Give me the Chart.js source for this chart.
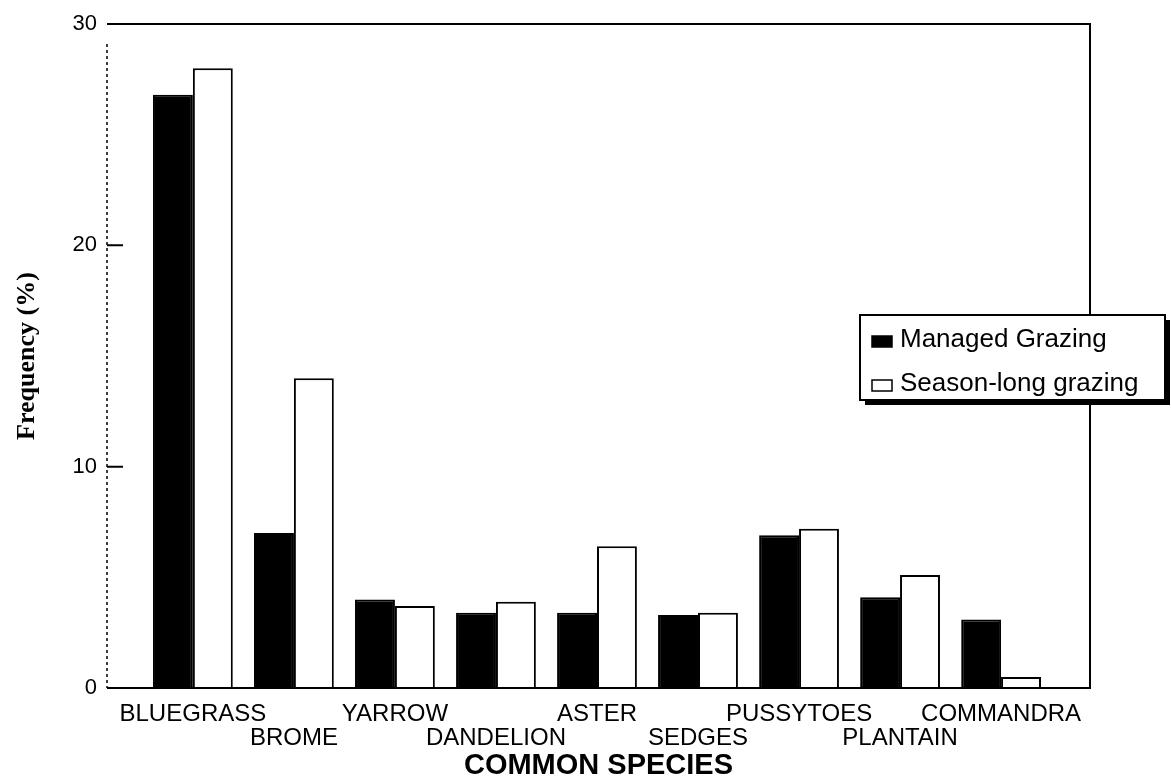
<!DOCTYPE html>
<html>
<head>
<meta charset="utf-8">
<script src="https://cdn.jsdelivr.net/npm/chart.js@4.4.1/dist/chart.umd.min.js"></script>
<style>
  html, body { margin: 0; padding: 0; background: #fff; }
  #wrap { width: 1171px; height: 783px; }
</style>
</head>
<body>
<div id="wrap"><canvas id="barChart"></canvas></div>
<script>
// Data
var species = ['BLUEGRASS', 'BROME', 'YARROW', 'DANDELION', 'ASTER', 'SEDGES', 'PUSSYTOES', 'PLANTAIN', 'COMMANDRA'];
var managedGrazing = [26.8, 7.0, 4.0, 3.4, 3.4, 3.3, 6.9, 4.1, 3.1];
var seasonLongGrazing = [28.0, 14.0, 3.7, 3.9, 6.4, 3.4, 7.2, 5.1, 0.5];
var yTicks = [0, 10, 20, 30];
var seriesNames = ['Managed Grazing', 'Season-long grazing'];

var ctx = document.getElementById('barChart').getContext('2d');

function toPoints(values) {
    return values.map(function (v, i) { return { x: i, y: v }; });
}

// Plot frame: solid top/right/bottom, dotted left axis, inward ticks
var framePlugin = {
    id: 'frame',
    afterDatasetsDraw: function (chart) {
        var a = chart.chartArea, c = chart.ctx, ys = chart.scales.y;
        c.save();
        c.strokeStyle = '#000';
        c.lineWidth = 2;
        c.beginPath();
        c.moveTo(a.left, a.bottom);
        c.lineTo(a.right, a.bottom);
        c.lineTo(a.right, a.top);
        c.lineTo(a.left, a.top);
        c.stroke();
        c.lineWidth = 1.5;
        c.setLineDash([3, 3]);
        c.beginPath();
        c.moveTo(a.left, a.top + 20);
        c.lineTo(a.left, a.bottom);
        c.stroke();
        c.setLineDash([]);
        c.lineWidth = 2;
        c.beginPath();
        yTicks.forEach(function (v) {
            if (v > yTicks[0] && v < yTicks[yTicks.length - 1]) {
                var py = ys.getPixelForValue(v);
                c.moveTo(a.left, py);
                c.lineTo(a.left + 16, py);
            }
        });
        c.stroke();
        c.restore();
    }
};

// Boxed legend with drop shadow, drawn over the right border
var legendPlugin = {
    id: 'boxLegend',
    afterDraw: function (chart) {
        var a = chart.chartArea, c = chart.ctx;
        var bx = a.right - 230, by = a.top + 291, bw = 305, bh = 85;
        c.save();
        c.fillStyle = '#000';
        c.fillRect(bx + 5, by + 5, bw, bh);
        c.fillStyle = '#fff';
        c.fillRect(bx, by, bw, bh);
        c.strokeStyle = '#000';
        c.lineWidth = 2;
        c.strokeRect(bx, by, bw, bh);
        c.font = '26px "Liberation Sans", Arial, sans-serif';
        c.textBaseline = 'alphabetic';
        chart.data.datasets.forEach(function (ds, i) {
            var base = by + 32 + i * 44;
            c.fillStyle = ds.backgroundColor;
            c.fillRect(bx + 12, base - 11, 20, 11);
            c.lineWidth = 1.5;
            c.strokeRect(bx + 12, base - 11, 20, 11);
            c.fillStyle = '#000';
            c.fillText(ds.label, bx + 40, base);
        });
        c.restore();
    }
};

var chartData = {
    datasets: [
        {
            label: seriesNames[0],
            data: toPoints(managedGrazing),
            backgroundColor: '#000',
            borderColor: '#000',
            borderWidth: 2
        },
        {
            label: seriesNames[1],
            data: toPoints(seasonLongGrazing),
            backgroundColor: '#fff',
            borderColor: '#000',
            borderWidth: 2
        }
    ]
};

var chartOptions = {
    responsive: true,
    maintainAspectRatio: false,
    animation: false,
    layout: { padding: { left: 0, right: 81, top: 24, bottom: 0 } },
    datasets: {
        bar: { categoryPercentage: 0.79, barPercentage: 1.0, borderSkipped: 'start' }
    },
    scales: {
        x: {
            type: 'linear',
            offset: false,
            min: -0.85,
            max: 8.88,
            grid: { display: false, drawTicks: false },
            border: { display: false },
            afterBuildTicks: function (scale) {
                scale.ticks = species.map(function (s, i) { return { value: i }; });
            },
            afterFit: function (scale) { scale.height = 95; },
            ticks: {
                autoSkip: false,
                maxRotation: 0,
                padding: 14,
                color: '#000',
                font: { family: '"Liberation Sans", Arial, sans-serif', size: 24, lineHeight: 1.0 },
                callback: function (v) {
                    var i = Math.round(v);
                    return i % 2 ? ['', species[i]] : species[i];
                }
            },
            title: {
                display: true,
                text: 'COMMON SPECIES',
                color: '#000',
                padding: { top: 0, bottom: 0 },
                font: { family: '"Liberation Sans", Arial, sans-serif', size: 29, weight: 'bold' }
            }
        },
        y: {
            min: yTicks[0],
            max: yTicks[yTicks.length - 1],
            grid: { display: false, drawTicks: false },
            border: { display: false },
            afterBuildTicks: function (scale) {
                scale.ticks = yTicks.map(function (v) { return { value: v }; });
            },
            afterFit: function (scale) { scale.width = 107; },
            ticks: {
                padding: 10,
                color: '#000',
                font: { family: '"Liberation Sans", Arial, sans-serif', size: 22 }
            },
            title: {
                display: true,
                text: 'Frequency (%)',
                color: '#000',
                padding: { top: 12, bottom: 0 },
                font: { family: '"Liberation Serif", "Times New Roman", serif', size: 26, weight: 'bold' }
            }
        }
    },
    plugins: {
        legend: { display: false },
        tooltip: { enabled: false }
    }
};

var barChart = new Chart(ctx, {
    type: 'bar',
    data: chartData,
    options: chartOptions,
    plugins: [framePlugin, legendPlugin]
});
</script>
</body>
</html>
